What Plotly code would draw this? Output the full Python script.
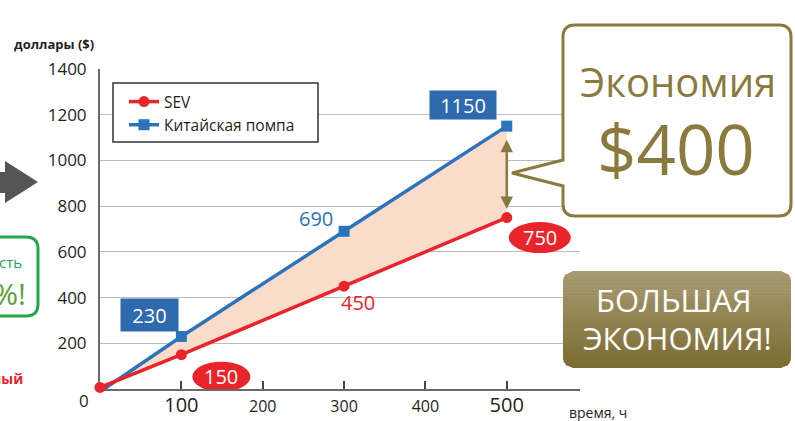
import math
import plotly.graph_objects as go

# ---------------- data ----------------
hours = [0, 100, 300, 500]
sev = [7, 150, 450, 750]
chinese = [-12, 230, 690, 1150]
sev_labels = ["", "150", "450", "750"]
chinese_labels = ["", "230", "690", "1150"]
x_tick_vals = [100, 200, 300, 400, 500]
x_tick_text = ["100", "200", "300", "400", "500"]
y_tick_vals = [200, 400, 600, 800, 1000, 1200, 1400]
y_tick_text = ["200", "400", "600", "800", "1000", "1200", "1400"]
saving_low, saving_high = 788, 1097

RED = "#E9242B"
BLUE = "#2B73BA"
FILL = "#FBDCCB"
OLIVE = "#8A7A3D"
BOXBLUE = "#2F69AE"
TXT = "#231F20"
FONT = "Open Sans"

W, H = 795, 421
L_M, R_M, T_M, B_M = 100, 215, 69, 32
PW, PH = W - L_M - R_M, H - T_M - B_M


def px(x):
    return (x - L_M) / PW


def py(y):
    return (H - B_M - y) / PH


fig = go.Figure()

# fill between the two lines
fig.add_trace(go.Scatter(x=hours, y=sev, mode="lines", line=dict(width=0, color=FILL),
                         showlegend=False, hoverinfo="skip", cliponaxis=False))
fig.add_trace(go.Scatter(x=hours, y=chinese, mode="lines", line=dict(width=0, color=FILL),
                         fill="tonexty", fillcolor=FILL, showlegend=False,
                         hoverinfo="skip", cliponaxis=False))

fig.add_trace(go.Scatter(x=hours, y=chinese, mode="lines+markers", name="Китайская помпа",
                         line=dict(color=BLUE, width=3.5),
                         marker=dict(symbol="square", size=11, color=BLUE),
                         legendrank=2, cliponaxis=False))
fig.add_trace(go.Scatter(x=hours, y=sev, mode="lines+markers", name="SEV",
                         line=dict(color=RED, width=3.5),
                         marker=dict(symbol="circle", size=11, color=RED),
                         legendrank=1, cliponaxis=False))

shapes = []
annotations = []


def pann(x, y, text, size, color, xanchor="center", yanchor="middle"):
    annotations.append(dict(x=px(x), y=py(y), xref="paper", yref="paper", text=text,
                            xanchor=xanchor, yanchor=yanchor, showarrow=False,
                            font=dict(family=FONT, size=size, color=color)))


def P(x, y):
    return f"{px(x):.5f},{py(y):.5f}"


# legend frame
shapes.append(dict(type="rect", xref="paper", yref="paper", x0=px(113), x1=px(318),
                   y0=py(142), y1=py(83), fillcolor="white",
                   line=dict(color="#333333", width=1.5), layer="above"))

# value labels
offs_sev = {1: (40, -22, "ellipse"), 2: (14, -16, "text"), 3: (33, -20, "ellipse")}
offs_ch = {1: (-32, 21, "box"), 2: (-28, 13, "text"), 3: (-44, 21, "box")}

for i, (xv, yv, lab) in enumerate(zip(hours, sev, sev_labels)):
    if not lab:
        continue
    dx, dy, kind = offs_sev[i]
    if kind == "ellipse":
        w, h = (58, 30) if i == 1 else (62, 31)
        shapes.append(dict(type="circle", xref="x", yref="y", xsizemode="pixel", ysizemode="pixel",
                           xanchor=xv, yanchor=yv, x0=dx - w / 2, x1=dx + w / 2,
                           y0=dy - h / 2, y1=dy + h / 2, fillcolor=RED, line=dict(width=0),
                           layer="above"))
        annotations.append(dict(x=xv, y=yv, xref="x", yref="y", text=lab, showarrow=False,
                                xanchor="center", yanchor="middle",
                                xshift=dx, yshift=dy, font=dict(family=FONT, size=20, color="white")))
    else:
        annotations.append(dict(x=xv, y=yv, xref="x", yref="y", text=lab, showarrow=False,
                                xanchor="center", yanchor="middle",
                                xshift=dx, yshift=dy, font=dict(family=FONT, size=20, color=RED)))

for i, (xv, yv, lab) in enumerate(zip(hours, chinese, chinese_labels)):
    if not lab:
        continue
    dx, dy, kind = offs_ch[i]
    if kind == "box":
        w, h = (55, 30) if i == 1 else (64, 26)
        annotations.append(dict(x=xv, y=yv, xref="x", yref="y", text=lab, showarrow=False,
                                xanchor="center", yanchor="middle",
                                xshift=dx, yshift=dy, width=w, height=h, bgcolor=BOXBLUE,
                                font=dict(family=FONT, size=20, color="white")))
    else:
        annotations.append(dict(x=xv, y=yv, xref="x", yref="y", text=lab, showarrow=False,
                                xanchor="center", yanchor="middle",
                                xshift=dx, yshift=dy, font=dict(family=FONT, size=20, color=BLUE)))

# double arrow showing saving
annotations.append(dict(x=hours[-1], y=saving_low, ax=hours[-1], ay=saving_high,
                        xref="x", yref="y", axref="x", ayref="y", text="", showarrow=True,
                        arrowhead=2, startarrowhead=2, arrowside="end+start",
                        arrowwidth=2.5, arrowsize=1, startarrowsize=1, arrowcolor=OLIVE))

# speech bubble
BL, BR, BT, BB, r = 563, 791, 25, 216, 12
tail = [(BL, 186), (512, 173), (BL, 160)]
path = (f"M {P(BL + r, BT)} L {P(BR - r, BT)} Q {P(BR, BT)} {P(BR, BT + r)} "
        f"L {P(BR, BB - r)} Q {P(BR, BB)} {P(BR - r, BB)} L {P(BL + r, BB)} "
        f"Q {P(BL, BB)} {P(BL, BB - r)} L {P(*tail[0])} L {P(*tail[1])} L {P(*tail[2])} "
        f"L {P(BL, BT + r)} Q {P(BL, BT)} {P(BL + r, BT)} Z")
shapes.append(dict(type="path", xref="paper", yref="paper", path=path, fillcolor="white",
                   line=dict(color=OLIVE, width=3), layer="above"))
pann(678, 81, "Экономия", 40, OLIVE)
pann(676, 148, "$400", 69, OLIVE)

# gradient box "БОЛЬШАЯ ЭКОНОМИЯ!"
GL, GR, GT, GB, gr = 563, 791, 271, 368, 10
top_c, bot_c = (168, 154, 114), (123, 108, 50)
n = 32


def inset(y):
    d = max(0.0, GT + gr - y, y - (GB - gr))
    d = min(d, gr)
    return gr - math.sqrt(max(gr * gr - d * d, 0))


for k in range(n):
    y0 = GT + (GB - GT) * k / n
    y1 = GT + (GB - GT) * (k + 1) / n
    t = (k + 0.5) / n
    c = tuple(int(round(a + (b - a) * t)) for a, b in zip(top_c, bot_c))
    y1e = min(y1 + 0.6, GB)
    p = (f"M {P(GL + inset(y0), y0)} L {P(GR - inset(y0), y0)} "
         f"L {P(GR - inset(y1e), y1e)} L {P(GL + inset(y1e), y1e)} Z")
    shapes.append(dict(type="path", xref="paper", yref="paper", path=p,
                       fillcolor="rgb(%d,%d,%d)" % c, line=dict(width=0), layer="above"))

pann(674, 300, "БОЛЬШАЯ", 31, "white")
pann(677, 338, "ЭКОНОМИЯ!", 31, "white")

# left cut-off decorations
arrow_pts = [(-10, 172), (5, 172), (5, 161), (38, 182), (5, 203), (5, 193), (-10, 193)]
shapes.append(dict(type="path", xref="paper", yref="paper",
                   path="M " + " L ".join(P(x, y) for x, y in arrow_pts) + " Z",
                   fillcolor="#555555", line=dict(width=0), layer="above"))
GRN = "#22A84A"
gp = (f"M {P(-40, 237)} L {P(26, 237)} Q {P(38, 237)} {P(38, 249)} L {P(38, 304)} "
      f"Q {P(38, 316)} {P(26, 316)} L {P(-40, 316)} Z")
shapes.append(dict(type="path", xref="paper", yref="paper", path=gp, fillcolor="white",
                   line=dict(color=GRN, width=3), layer="above"))
pann(24, 262, "ость", 15, GRN, xanchor="right")
pann(28, 293, "30%!", 30, "#5E9E3A", xanchor="right")
pann(25, 378, "<b>ный</b>", 14, RED, xanchor="right")

# axis titles & origin label
pann(12, 44, "<b>доллары ($)</b>", 13, TXT, xanchor="left")
pann(567, 412, "время, ч", 14, TXT, xanchor="left")
pann(91, 400, "0", 17, TXT, xanchor="right")

big = {"100", "500"}
xt = [f"<span style='font-size:20px'>{t}</span>" if t in big else t for t in x_tick_text]

fig.update_layout(
    width=W, height=H, autosize=False,
    margin=dict(l=L_M, r=R_M, t=T_M, b=B_M, autoexpand=False),
    paper_bgcolor="white", plot_bgcolor="white",
    font=dict(family=FONT, color=TXT),
    xaxis=dict(range=[0, 590], tickvals=x_tick_vals, ticktext=xt, ticks="inside", ticklen=8,
               tickwidth=1.5, tickcolor="#444444", showgrid=False, zeroline=False,
               showline=True, linecolor="#6A6A6A", linewidth=2, layer="below traces",
               automargin=False,
               tickfont=dict(family=FONT, size=16, color=TXT), ticklabelstandoff=2, fixedrange=True),
    yaxis=dict(range=[0, 1400], tickvals=y_tick_vals, ticktext=y_tick_text, ticks="",
               showgrid=True, gridcolor="#BDBDBD", gridwidth=1, zeroline=False,
               showline=True, linecolor="#6A6A6A", linewidth=2, layer="below traces",
               automargin=False,
               tickfont=dict(family=FONT, size=17, color=TXT), ticklabelstandoff=8, fixedrange=True),
    legend=dict(x=px(124), y=py(85), xanchor="left", yanchor="top", bgcolor="rgba(0,0,0,0)",
                borderwidth=0, font=dict(family=FONT, size=15.5, color=TXT),
                traceorder="normal", tracegroupgap=0),
    shapes=shapes, annotations=annotations, showlegend=True,
)

fig.write_html("out.html", config={"displayModeBar": False},
               post_script="document.body.style.margin='0';document.body.style.overflow='hidden';")
